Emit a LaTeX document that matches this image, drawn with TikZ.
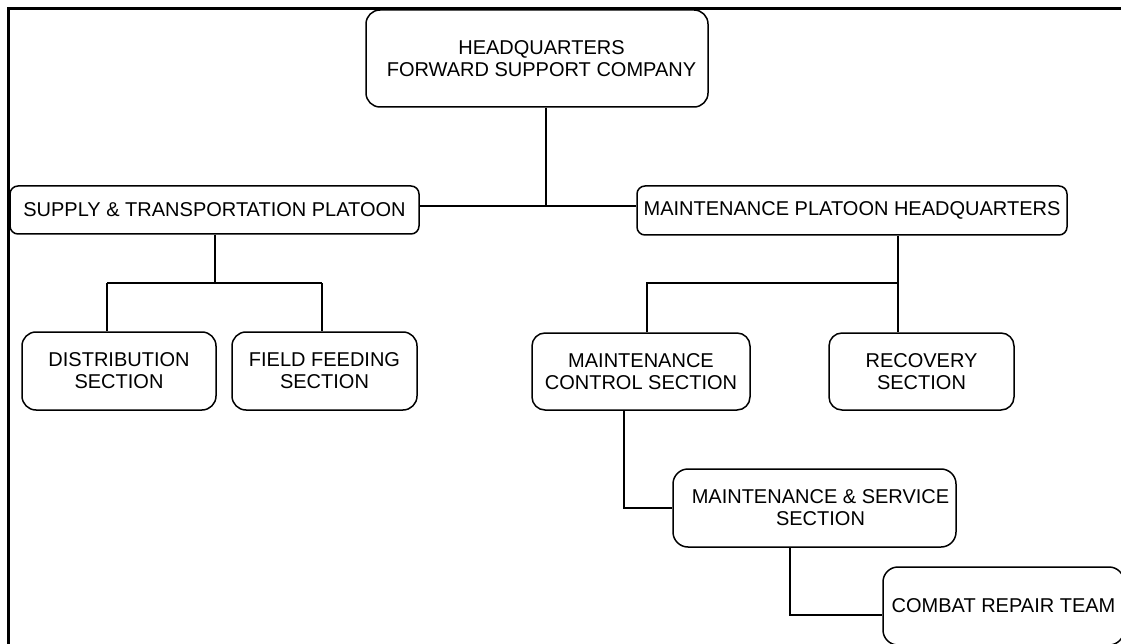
\documentclass[tikz,border=0pt]{standalone}
\usepackage{fontspec}
\setmainfont{Liberation Sans}
\begin{document}
\begin{tikzpicture}[x=1pt,y=-1pt,
  box/.style={draw, line width=1.5pt, rounded corners=#1, inner sep=0pt,
    align=center, font=\fontsize{20}{22}\selectfont},
  box/.default=13pt,
  lower/.style={text depth=-#1},
  conn/.style={line width=2.6pt},
  link/.style={line width=1.2pt},
  frame/.style={line width=3pt, line join=miter}]
\useasboundingbox (0,0) rectangle (1121,644);

% outer frame (top and left edges only)
\draw[frame] (8.7,660) -- (8.7,9) -- (1140,9);

% company headquarters
\node[box=14pt, lower=8pt, minimum width=342pt, minimum height=97pt] (hq) at (537,58.5)
  {\hspace*{9pt}HEADQUARTERS\\\hspace*{9pt}FORWARD SUPPORT COMPANY};

% platoons
\node[box=8pt, minimum width=409pt, minimum height=48pt] (st) at (214.5,210)
  {SUPPLY \& TRANSPORTATION PLATOON};
\node[box=8pt, minimum width=430pt, minimum height=49pt] (mph) at (852,210.5)
  {MAINTENANCE PLATOON HEADQUARTERS};

% supply & transportation sections
\node[box=14pt, lower=7pt, minimum width=194pt, minimum height=78pt] (dist) at (119,371)
  {DISTRIBUTION\\SECTION};
\node[box=14pt, lower=7pt, minimum width=185pt, minimum height=78pt] (ff) at (324.5,371)
  {FIELD FEEDING\\SECTION};

% maintenance sections
\node[box, lower=2pt, minimum width=218pt, minimum height=77pt] (mcs) at (641,371.5)
  {MAINTENANCE\\CONTROL SECTION};
\node[box, lower=2pt, minimum width=185pt, minimum height=77pt] (rec) at (921.5,371.5)
  {RECOVERY\\SECTION};
\node[box=15pt, lower=4pt, minimum width=283pt, minimum height=78pt] (ms) at (814.5,508)
  {\hspace*{12pt}MAINTENANCE \& SERVICE\\\hspace*{12pt}SECTION};
\node[box=15pt, minimum width=241pt, minimum height=78pt] (crt) at (1003.5,606)
  {COMBAT REPAIR TEAM};

% junction points
\coordinate (jh) at (546,206);
\coordinate (js) at (215,283);
\coordinate (jd) at (107,283);
\coordinate (jf) at (322,283);
\coordinate (jm) at (898,283);
\coordinate (jc) at (647,283);
\coordinate (jx) at (624,508);
\coordinate (jr) at (790,615);

% headquarters to platoons
\draw[conn] (jh |- hq.south) -- (jh);
\draw[link] (st.east |- jh) -- (mph.west |- jh);

% supply & transportation platoon to its sections
\draw[conn] (js |- st.south) -- (js);
\draw[conn] (jd) -- (jf);
\draw[conn] (jd) -- (jd |- dist.north);
\draw[conn] (jf) -- (jf |- ff.north);

% maintenance platoon to its sections
\draw[conn] (jm |- mph.south) -- (jm |- rec.north);
\draw[conn] (jc |- mcs.north) -- (jc) -- (jm);

% maintenance control -> maintenance & service -> combat repair team
\draw[conn] (jx |- mcs.south) -- (jx) -- (ms.west);
\draw[conn] (jr |- ms.south) -- (jr) -- (jr -| crt.west);
\end{tikzpicture}
\end{document}
